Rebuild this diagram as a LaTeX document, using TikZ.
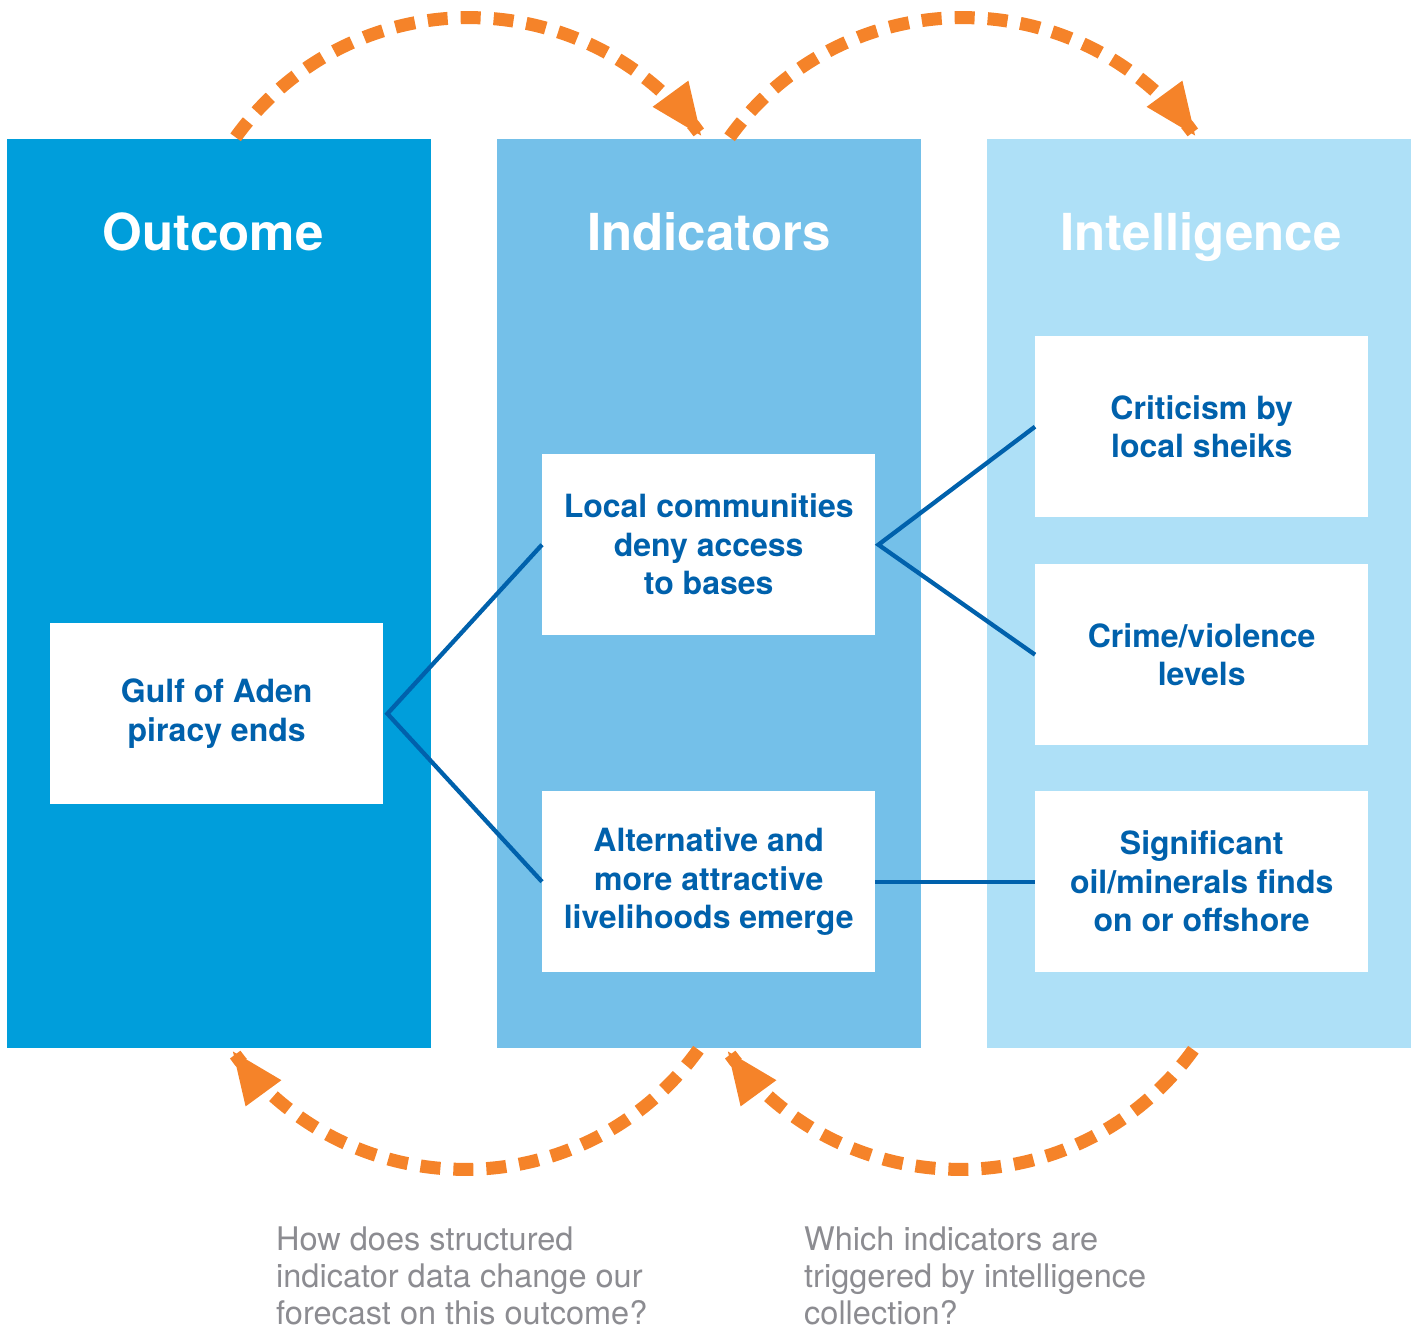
\documentclass[tikz,border=0pt]{standalone}
\usepackage{fontspec}
\setmainfont{TeX Gyre Heros}
\usetikzlibrary{arrows.meta}
\definecolor{colA}{RGB}{0,158,219}
\definecolor{colB}{RGB}{116,192,233}
\definecolor{colC}{RGB}{174,224,247}
\definecolor{txtblue}{RGB}{0,97,172}
\definecolor{arcorange}{RGB}{245,131,41}
\definecolor{qgray}{RGB}{140,140,145}
\begin{document}
\begin{tikzpicture}[x=1pt,y=-1pt,
  column/.style={draw=none, minimum width=424pt, minimum height=909pt, inner sep=0pt, anchor=north west},
  ctitle/.style={text=white, font=\fontsize{51}{60}\selectfont\bfseries, anchor=base, inner sep=0pt},
  card/.style={fill=white, minimum width=333pt, minimum height=181pt, inner sep=0pt, anchor=north west, align=center, text=txtblue, font=\fontsize{32}{38.5}\selectfont\bfseries},
  link/.style={draw=txtblue, line width=4.3pt},
  loop/.style={draw=arcorange, line width=13pt, dash pattern=on 20pt off 13pt, -{Triangle[length=54pt,width=40pt]}},
  question/.style={text=qgray, font=\fontsize{32.5}{37}\selectfont, align=left, anchor=north west, inner sep=0pt}]
\useasboundingbox (0,0) rectangle (1416,1325);

% columns
\node[column, fill=colA] (outcol) at (7,139) {};
\node[column, fill=colB] (indcol) at (497,139) {};
\node[column, fill=colC] (intcol) at (987,139) {};

\node[ctitle] (outtitle) at (213,250) {Outcome};
\node[ctitle] (indtitle) at (709,250) {Indicators};
\node[ctitle] (inttitle) at (1201,250) {Intelligence};

% cards
\node[card] (gulf) at (50,623) {Gulf of Aden\\piracy ends};
\node[card] (local) at (542,454) {Local communities\\deny access\\to bases};
\node[card] (alt) at (542,791) {Alternative and\\more attractive\\livelihoods emerge};
\node[card] (crit) at (1035,336) {Criticism by\\local sheiks};
\node[card] (crime) at (1035,564) {Crime/violence\\levels};
\node[card] (sig) at (1035,791) {Significant\\oil/minerals finds\\on or offshore};

% links
\draw[link] (local.west) -- ([xshift=4pt]gulf.east) -- (alt.west);
\draw[link] (crit.west) -- ([xshift=3pt]local.east) -- (crime.west);
\draw[link] (alt.east) -- (sig.west);

% feedback loops
\draw[loop] plot[domain=144.3:35.7, samples=90] ({469+287.4*cos(\x)},{305-287.4*sin(\x)});
\draw[loop] plot[domain=144.3:35.7, samples=90] ({963+287.4*cos(\x)},{305-287.4*sin(\x)});
\draw[loop] plot[domain=-35.7:-144.3, samples=90] ({465+287.4*cos(\x)},{882-287.4*sin(\x)});
\draw[loop] plot[domain=-35.7:-144.3, samples=90] ({960+287.4*cos(\x)},{882-287.4*sin(\x)});

% questions
\node[question] (q1) at (276,1227) {How does structured\\indicator data change our\\forecast on this outcome?};
\node[question] (q2) at (804,1227) {Which indicators are\\triggered by intelligence\\collection?};
\end{tikzpicture}
\end{document}
